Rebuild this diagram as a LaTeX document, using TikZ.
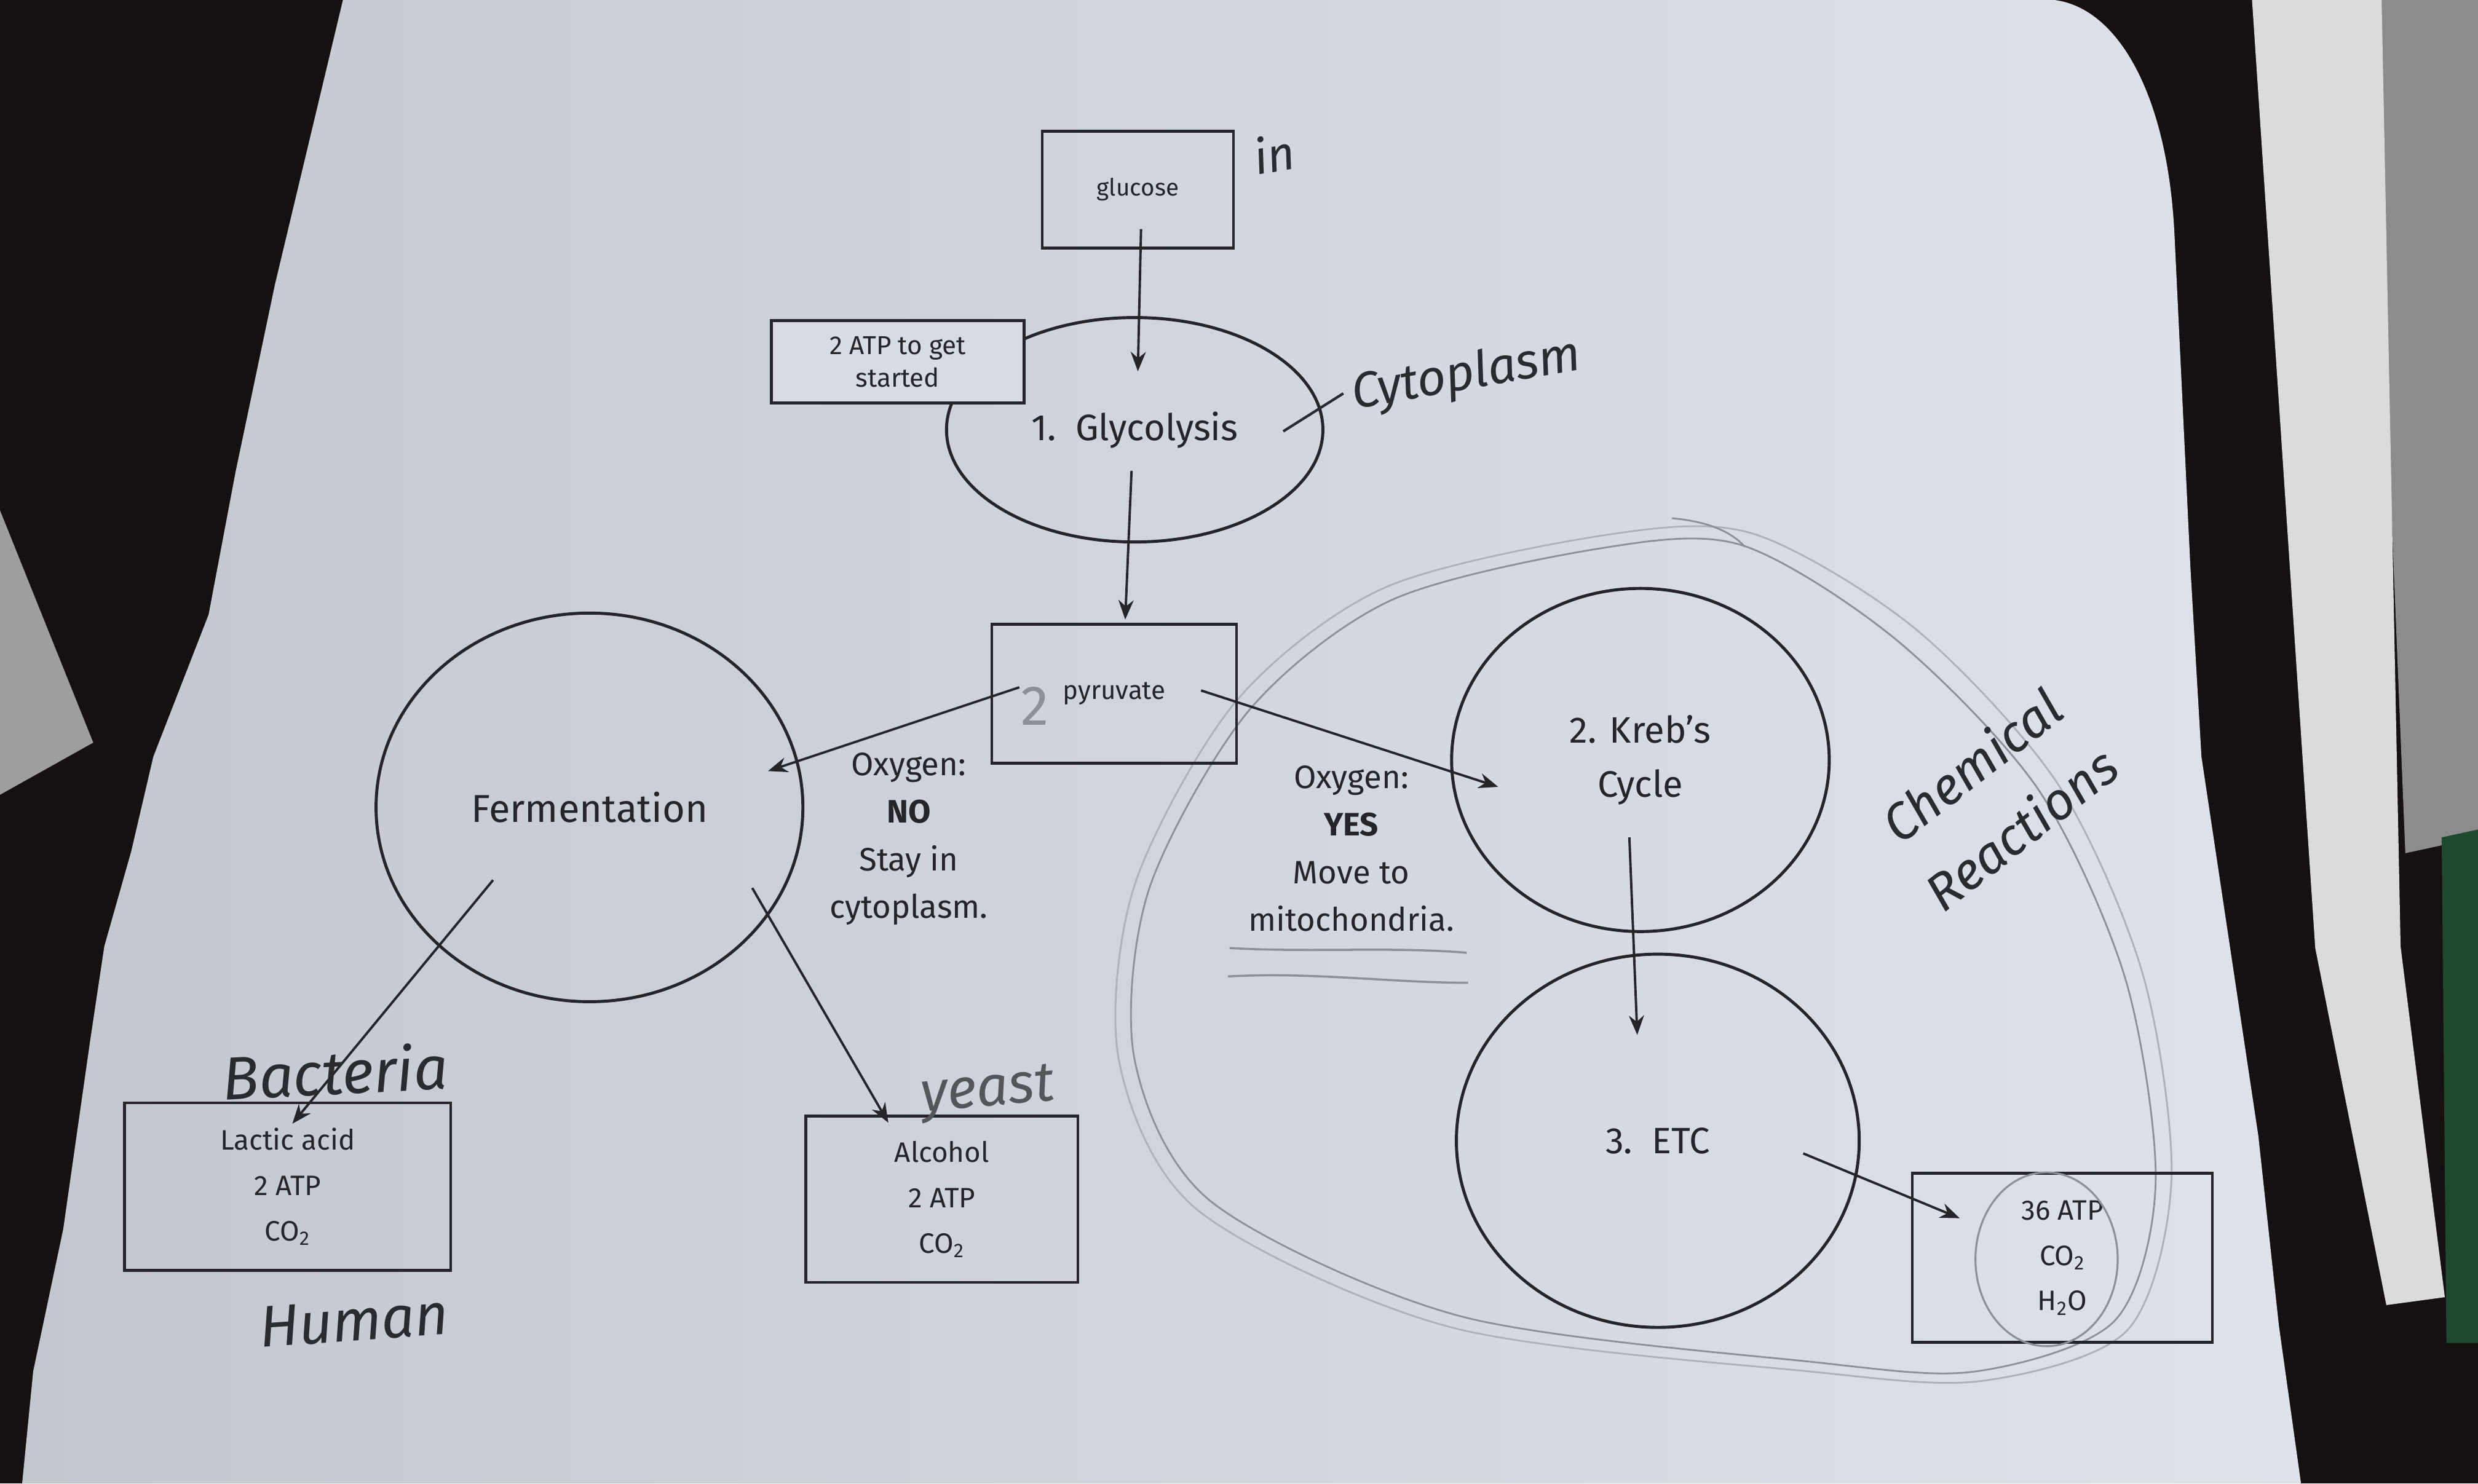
\documentclass[tikz,border=0pt]{standalone}
\usepackage{fontspec}
\setmainfont{Fira Sans}
\newfontfamily\handfont{Fira Sans}
\usetikzlibrary{shapes.geometric,arrows.meta,calc}
\definecolor{desk}{HTML}{141110}
\definecolor{paper}{HTML}{DFE2E9}
\definecolor{paperdark}{HTML}{C3C7CE}
\definecolor{ink}{HTML}{24242A}
\definecolor{pen}{HTML}{2A2A31}
\definecolor{lead}{HTML}{8C9099}
\definecolor{binder}{HTML}{1D4A2C}
\tikzset{
  stage/.style={ellipse,draw=ink,line width=1.4pt,inner sep=0pt,text=ink,align=center,font=\fontsize{17}{25}\selectfont},
  databox/.style={rectangle,draw=ink,line width=1.3pt,inner sep=0pt,text=ink,align=center,font=\fontsize{13}{21}\selectfont},
  handnote/.style={text=pen,font=\handfont\itshape\fontsize{#1}{#1}\selectfont},
  handnote/.default=24,
  flow/.style={draw=ink,line width=1.1pt,-{Stealth[length=9pt,width=7pt]}},
  pencil/.style={draw=lead,line width=0.8pt},
}
\begin{document}
\begin{tikzpicture}[x=0.0257cm,y=-0.0257cm]
        \useasboundingbox (0,0) rectangle (1568,939);
        \fill[desk] (0,0) rectangle (1568,939);
        \fill[black!45] (1500,0) -- (1568,0) -- (1568,530) -- (1522,540) -- cycle;
        \fill[binder] (1545,530) -- (1568,525) -- (1568,850) -- (1548,850) -- cycle;
        \fill[black!14] (1425,0) -- (1507,0) -- (1519,599) -- (1547,821) -- (1510,826) -- (1465,600) -- cycle;
        \fill[black!38] (0,323) -- (59,470) -- (0,503) -- cycle;
        \shade[left color=paperdark,right color=paper] (217,0) -- (1300,0) .. controls (1340,5) and (1372,60) .. (1376,150) -- (1386,359) -- (1393,479) -- (1411,599) -- (1429,719) -- (1442,839) -- (1456,939) -- (14,939) -- (21,868) -- (40,778) -- (57,659) -- (66,599) -- (83,539) -- (97,479) -- (132,389) -- (149,299) -- (174,180) -- cycle;
        % pencil marks
        \draw[pencil] plot[smooth cycle] coordinates {(1013,347) (1102,345) (1200,405) (1290,500) (1345,620) (1364,749) (1338,836) (1250,868) (1147,862) (924,833) (767,761) (718,671) (727,563) (790,450) (880,380)};
        \draw[pencil,draw=lead!60!paper] plot[smooth cycle] coordinates {(1020,338) (1110,338) (1212,398) (1302,496) (1356,617) (1374,747) (1346,842) (1254,874) (1145,868) (918,840) (758,766) (708,671) (718,560) (782,444) (876,372)};
        \draw[pencil] (1058,328) .. controls (1080,330) and (1095,336) .. (1104,346);
        \draw[pencil,line width=1pt] (778,600) .. controls (830,603) and (880,599) .. (928,603);
        \draw[pencil,line width=1pt] (777,618) .. controls (830,615) and (880,622) .. (929,622);

        \node[databox,minimum width=3.11cm,minimum height=1.9cm,font=\fontsize{11}{13}\selectfont] (glucose) at (720,120) {glucose};
        \node[stage,minimum width=6.12cm,minimum height=3.65cm] (glyco) at (718,272) {1.\ \ Glycolysis};
        \node[databox,fill=paper!75!paperdark,minimum width=4.11cm,minimum height=1.34cm,font=\fontsize{12}{15}\selectfont] (primer) at (568,229) {2 ATP to get\\started};
        \node[databox,minimum width=3.98cm,minimum height=2.26cm,font=\fontsize{12}{14}\selectfont] (pyruvate) at (705,439) {pyruvate};
        \node[stage,minimum width=6.94cm,minimum height=6.32cm,font=\fontsize{18}{21}\selectfont] (ferm) at (373,511) {Fermentation};
        \node[stage,minimum width=6.14cm,minimum height=5.58cm] (krebs) at (1038,481) {2. Kreb's\\Cycle};
        \node[stage,minimum width=6.55cm,minimum height=6.07cm] (etc) at (1049,722) {3.\ \ ETC};
        \node[databox,minimum width=4.88cm,minimum height=2.75cm] (yield) at (1305,796) {36 ATP\\CO\textsubscript{2}\\H\textsubscript{2}O};
        \node[databox,minimum width=5.3cm,minimum height=2.72cm] (lactic) at (182,751) {Lactic acid\\2 ATP\\CO\textsubscript{2}};
        \node[databox,minimum width=4.42cm,minimum height=2.7cm] (alcohol) at (596,759) {Alcohol\\2 ATP\\CO\textsubscript{2}};
        \node[text=ink,align=center,font=\fontsize{15}{22}\selectfont] (nooxy) at (575,531) {Oxygen:\\\textbf{NO}\\Stay in\\cytoplasm.};
        \node[text=ink,align=center,font=\fontsize{15}{22}\selectfont] (yesoxy) at (855,537) {Oxygen:\\\textbf{YES}\\Move to\\mitochondria.};

        \draw[pencil,line width=0.9pt] (1295,797) ellipse [x radius=45,y radius=55];

        \draw[flow] ($(glucose.center)+(2,25)$) -- ($(glyco.center)+(2,-37)$);
        \draw[flow] ($(glyco.center)+(-2,26)$) -- ($(pyruvate.north)+(7,-2)$);
        \draw[flow] ($(pyruvate.center)+(-60,-4)$) -- ($(ferm.center)+(113,-23)$);
        \draw[flow] ($(pyruvate.center)+(55,-2)$) -- ($(krebs.center)+(-90,17)$);
        \draw[flow] ($(krebs.center)+(-7,49)$) -- ($(etc.center)+(-13,-67)$);
        \draw[flow] ($(etc.center)+(92,8)$) -- ($(yield.center)+(-65,-25)$);
        \draw[flow] ($(ferm.center)+(-61,46)$) -- ($(lactic.north)+(3,14)$);
        \draw[flow] ($(ferm.center)+(103,51)$) -- ($(alcohol.north west)+(53,5)$);

        \node[handnote=22,rotate=10] (inlabel) at (806,97) {in};
        \node[handnote=23,rotate=10] (cyto) at (928,238) {Cytoplasm};
        \draw[draw=pen,line width=1.2pt] (812,273) -- (850,249);
        \node[handnote=26,text=lead,font=\handfont\fontsize{26}{26}\selectfont] (two) at (655,447) {2};
        \node[handnote=28,rotate=3] (bact) at (212,678) {Bacteria};
        \node[handnote=27,rotate=4] (human) at (224,836) {Human};
        \node[handnote=26,rotate=5,text=lead!60!black] (yeast) at (625,692) {yeast};
        \node[handnote=24,rotate=38,align=center,font=\handfont\itshape\fontsize{24}{37}\selectfont] (chem) at (1263,504) {Chemical\\Reactions};
\end{tikzpicture}
\end{document}
